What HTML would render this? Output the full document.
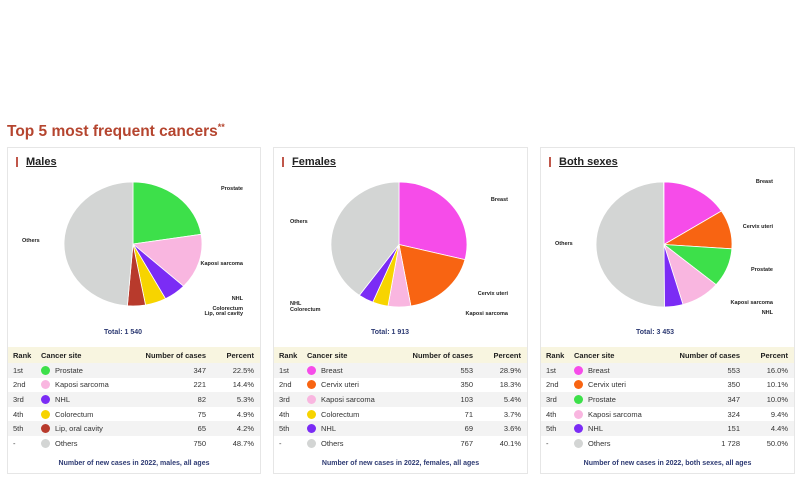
<!DOCTYPE html>
<html><head><meta charset="utf-8"><style>
body{margin:0;width:800px;height:500px;background:#fff;font-family:"Liberation Sans",sans-serif;position:relative;overflow:hidden}
.t{position:absolute;white-space:nowrap}
.panel{position:absolute;top:147px;height:327px;border:1px solid #e6e6e6;box-sizing:border-box;background:#fff}
.h{position:absolute;top:8px;left:18px;font-weight:bold;font-size:11px;text-decoration:underline;color:#222}
.bar{position:absolute;top:9px;left:8px;width:1.5px;height:10px;background:#c0574a}
table{position:absolute;left:0;top:199px;width:100%;border-collapse:collapse;font-size:7.5px;color:#333}
td{height:14.6px;padding:0;}
tr.hd td{background:#f8f5e0;font-weight:bold;height:16px;color:#222}
tr.g td{background:#f3f3f3}
.dot{display:inline-block;width:9px;height:9px;border-radius:50%;vertical-align:-2px;margin-right:5px}
.foot{position:absolute;top:312px;width:100%;text-align:center;font-size:7px;font-weight:bold;color:#2d3a73}
svg text{font-family:"Liberation Sans",sans-serif;font-size:5.5px;font-weight:bold;fill:#222}
</style></head><body>
<div class="t" style="left:7px;top:122px;font-size:15.5px;font-weight:bold;color:#b5452f">Top 5 most frequent cancers<sup style="font-size:9px">**</sup></div>
<div id="root"></div>
<svg id="s" width="800" height="500" style="position:absolute;left:0;top:0;pointer-events:none"></svg>
<script>
var C={pro:'#3de04a',kap:'#f9b6e0',nhl:'#7b2cf5',col:'#f7d400',lip:'#b83a2c',oth:'#d3d5d4',bre:'#f64ce9',cer:'#f86412'};
var P=[
{x:7,w:254,title:'Males',cx:133,cy:244,rx:69,ry:62,total:'Total: 1 540',tx:123,
 rows:[['1st','pro','Prostate','347','22.5%'],['2nd','kap','Kaposi sarcoma','221','14.4%'],['3rd','nhl','NHL','82','5.3%'],['4th','col','Colorectum','75','4.9%'],['5th','lip','Lip, oral cavity','65','4.2%'],['-','oth','Others','750','48.7%']],
 labels:[['Prostate',243,190,'end'],['Others',22,242,'start'],['Kaposi sarcoma',243,265,'end'],['NHL',243,300,'end'],['Colorectum',243,310,'end'],['Lip, oral cavity',243,315,'end']],
 foot:'Number of new cases in 2022, males, all ages'},
{x:273,w:255,title:'Females',cx:399,cy:244.5,rx:68,ry:62.5,total:'Total: 1 913',tx:390,
 rows:[['1st','bre','Breast','553','28.9%'],['2nd','cer','Cervix uteri','350','18.3%'],['3rd','kap','Kaposi sarcoma','103','5.4%'],['4th','col','Colorectum','71','3.7%'],['5th','nhl','NHL','69','3.6%'],['-','oth','Others','767','40.1%']],
 labels:[['Breast',508,201,'end'],['Others',290,223,'start'],['Cervix uteri',508,295,'end'],['Kaposi sarcoma',508,315,'end'],['NHL',290,305,'start'],['Colorectum',290,311,'start']],
 foot:'Number of new cases in 2022, females, all ages'},
{x:540,w:255,title:'Both sexes',cx:664,cy:244.5,rx:68,ry:62.5,total:'Total: 3 453',tx:655,
 rows:[['1st','bre','Breast','553','16.0%'],['2nd','cer','Cervix uteri','350','10.1%'],['3rd','pro','Prostate','347','10.0%'],['4th','kap','Kaposi sarcoma','324','9.4%'],['5th','nhl','NHL','151','4.4%'],['-','oth','Others','1 728','50.0%']],
 labels:[['Breast',773,183,'end'],['Cervix uteri',773,228,'end'],['Others',555,245,'start'],['Prostate',773,271,'end'],['Kaposi sarcoma',773,304,'end'],['NHL',773,314,'end']],
 foot:'Number of new cases in 2022, both sexes, all ages'}];
var root=document.getElementById('root'),svg='';
P.forEach(function(p){
 var h='<div class="panel" style="left:'+p.x+'px;width:'+p.w+'px"><div class="bar"></div><div class="h">'+p.title+'</div><table>';
 h+='<tr class="hd"><td style="padding-left:5px;width:28px">Rank</td><td>Cancer site</td><td style="text-align:right">Number of cases</td><td style="text-align:right;padding-right:6px;width:48px">Percent</td></tr>';
 p.rows.forEach(function(r,i){h+='<tr class="'+(i%2==0?'g':'')+'"><td style="padding-left:5px">'+r[0]+'</td><td><span class="dot" style="background:'+C[r[1]]+'"></span>'+r[2]+'</td><td style="text-align:right">'+r[3]+'</td><td style="text-align:right;padding-right:6px">'+r[4]+'</td></tr>';});
 h+='</table><div class="foot">'+p.foot+'</div></div>';
 root.innerHTML+=h;
 var a=0;
 p.rows.forEach(function(r){var f=parseFloat(r[4])/100;var a2=a+f*2*Math.PI;
  var x1=p.cx+p.rx*Math.sin(a),y1=p.cy-p.ry*Math.cos(a),x2=p.cx+p.rx*Math.sin(a2),y2=p.cy-p.ry*Math.cos(a2);
  svg+='<path d="M'+p.cx+','+p.cy+'L'+x1+','+y1+'A'+p.rx+','+p.ry+' 0 '+(a2-a>Math.PI?1:0)+' 1 '+x2+','+y2+'Z" fill="'+C[r[1]]+'" stroke="#fff" stroke-width="0.8"/>';
  a=a2;});
 p.labels.forEach(function(l){svg+='<text x="'+l[1]+'" y="'+l[2]+'" text-anchor="'+l[3]+'">'+l[0]+'</text>';});
 svg+='<text x="'+p.tx+'" y="334" text-anchor="middle" style="font-size:7px;fill:#2d3a73">'+p.total+'</text>';
});
document.getElementById('s').innerHTML=svg;
</script>
</body></html>
